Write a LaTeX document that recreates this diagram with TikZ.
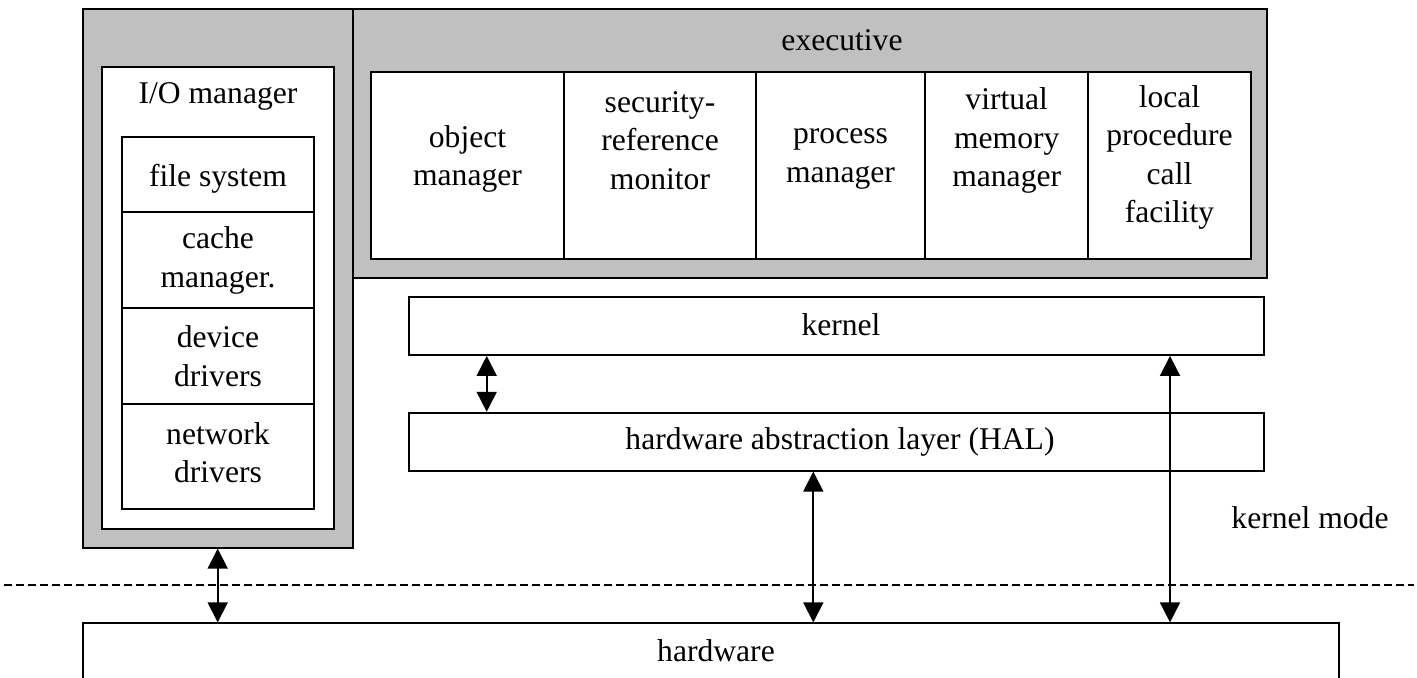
\documentclass[tikz,border=0pt]{standalone}
\usepackage{fontspec}
\setmainfont{Liberation Serif}
\usetikzlibrary{arrows.meta,fit}
\definecolor{panel}{HTML}{C0C0C0}
\begin{document}
\begin{tikzpicture}[x=0.5pt,y=-0.5pt,
  every node/.append style={font=\fontsize{15.8pt}{19.2pt}\selectfont},
  shaded/.style={draw,line width=0.9pt,fill=panel,inner sep=0pt},
  plain/.style={draw,line width=0.9pt,fill=white,inner sep=0pt},
  txt/.style={align=center,inner sep=0pt},
  link/.style={line width=0.9pt,{Triangle[length=10pt,width=10pt]}-{Triangle[length=10pt,width=10pt]}},
  divider/.style={line width=0.9pt,dash pattern=on 4pt off 2pt}]
\useasboundingbox (0,0) rectangle (1417,678);
\clip (0,0) rectangle (1417,678);

% shaded frames
\node[shaded,fit={(83.3,9) (352.7,547.7)}] (ioframe) {};
\node[shaded,fit={(352.7,9) (1267.3,278.3)}] (exec) {};
\node[txt] (exectext) at (842,40) {executive};

% I/O manager column
\node[plain,fit={(102.3,66.7) (333.7,528.7)}] (io) {};
\node[txt] (iotext) at (218,96.7) {I/O manager};
\node[plain,fit={(121.7,136.7) (314.3,212.3)}] (fs) {};
\node[plain,fit={(121.7,212.3) (314.3,308.3)}] (cm) {};
\node[plain,fit={(121.7,308.3) (314.3,404.3)}] (dd) {};
\node[plain,fit={(121.7,404.3) (314.3,509)}] (nd) {};
\node[txt] (fstext) at ([yshift=-2pt]fs.center) {file system};
\node[txt] (cmtext) at (cm.center) {cache\\manager.};
\node[txt] (ddtext) at (dd.center) {device\\drivers};
\node[txt] (ndtext) at ([yshift=2pt]nd.center) {network\\drivers};

% executive components
\node[plain,fit={(371.3,71.7) (564,258.7)}] (om) {};
\node[plain,fit={(564,71.7) (755.7,258.7)}] (srm) {};
\node[plain,fit={(755.7,71.7) (925.3,258.7)}] (pm) {};
\node[plain,fit={(925.3,71.7) (1088,258.7)}] (vmm) {};
\node[plain,fit={(1088,71.7) (1251,258.7)}] (lpc) {};
\node[txt] (omtext) at (467.5,159) {object\\manager};
\node[txt] (srmtext) at (660,140.5) {security-\\reference\\monitor};
\node[txt] (pmtext) at (840.5,159) {process\\manager};
\node[txt] (vmmtext) at (1006.7,140.5) {virtual\\memory\\manager};
\node[txt] (lpctext) at (1169.5,157.5) {local\\procedure\\call\\facility};

% kernel, HAL, hardware
\node[plain,fit={(409.3,296.7) (1264,355)}] (kernel) {};
\node[plain,fit={(409.3,412.7) (1264,470.7)}] (hal) {};
\node[plain,fit={(83.3,623.3) (1339,683)}] (hw) {};
\node[txt] (kerneltext) at (841,325) {kernel};
\node[txt] (haltext) at (840,442) {hardware abstraction layer (HAL)};
\node[txt] (hwtext) at (716,651) {hardware};

\node[txt] (mode) at (1310,518) {kernel mode};

% mode boundary
\coordinate (bl) at (4,585.3);
\coordinate (br) at (1414,585.3);
\draw[divider] (bl) -- (br);

% connectors
\coordinate (c1) at (217.7,0);
\coordinate (c2) at (486.7,0);
\coordinate (c3) at (813.3,0);
\coordinate (c4) at (1170,0);
\draw[link] (ioframe.south -| c1) -- (hw.north -| c1);
\draw[link] (kernel.south -| c2) -- (hal.north -| c2);
\draw[link] (hal.south -| c3) -- (hw.north -| c3);
\draw[link] (kernel.south -| c4) -- (hw.north -| c4);
\end{tikzpicture}
\end{document}
